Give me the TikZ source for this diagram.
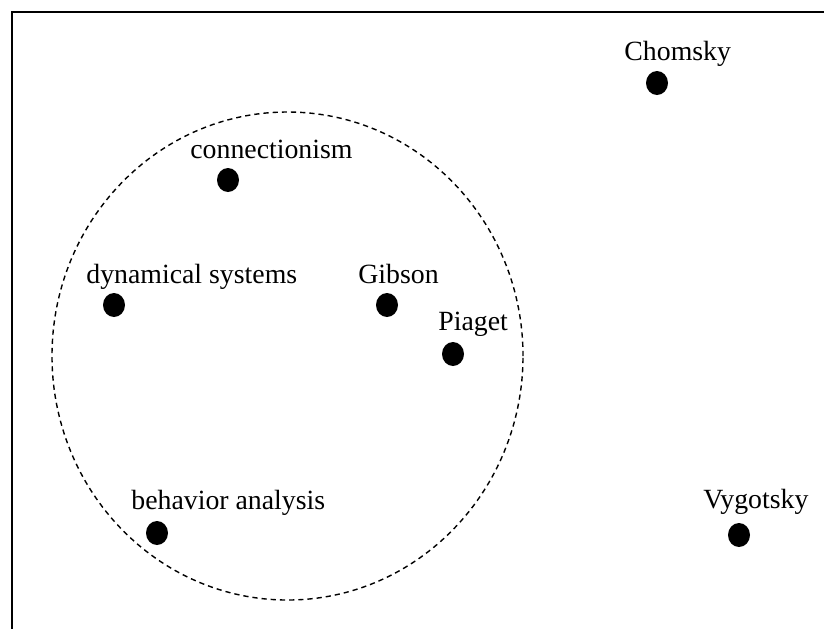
\documentclass[tikz,border=0pt]{standalone}
\usepackage{fontspec}
\setmainfont{Liberation Serif}
\usetikzlibrary{shapes.geometric}
\begin{document}
\begin{tikzpicture}[x=0.5pt,y=-0.5pt,
  dot/.style={ellipse,fill=black,inner sep=0pt,minimum width=11pt,minimum height=12pt},
  lbl/.style={anchor=base west,inner sep=0pt,font=\fontsize{13.9}{16}\selectfont},
  frame/.style={line width=1pt},
  group/.style={dashed,dash pattern=on 2.6pt off 2pt,line width=0.7pt}]
\useasboundingbox (0,0) rectangle (824,629);
\fill[white] (0,0) rectangle (824,629);
\coordinate (tl) at (11.5,11.5);
\coordinate (tr) at (824,11.5);
\coordinate (bl) at (11.5,629);
\draw[frame] (tr) -- (tl) -- (bl);
\node[group,draw,ellipse,minimum width=235.5pt,minimum height=244pt,inner sep=0pt] (grp) at (287.5,356) {};
% dots
\node[dot] (chom) at (657,83) {};
\node[dot] (conn) at (228,180) {};
\node[dot] (dyn) at (114,305) {};
\node[dot] (gib) at (387,305) {};
\node[dot] (pia) at (453,354) {};
\node[dot] (beh) at (157,533) {};
\node[dot] (vyg) at (739,535) {};
% labels
\node[lbl] (chomL) at (624,60) {Chomsky};
\node[lbl] (connL) at (190,158) {connectionism};
\node[lbl] (dynL) at (86,283) {dynamical systems};
\node[lbl] (gibL) at (358,283) {Gibson};
\node[lbl] (piaL) at (438,330) {Piaget};
\node[lbl] (behL) at (131,509) {behavior analysis};
\node[lbl] (vygL) at (703,508) {Vygotsky};
\end{tikzpicture}
\end{document}
